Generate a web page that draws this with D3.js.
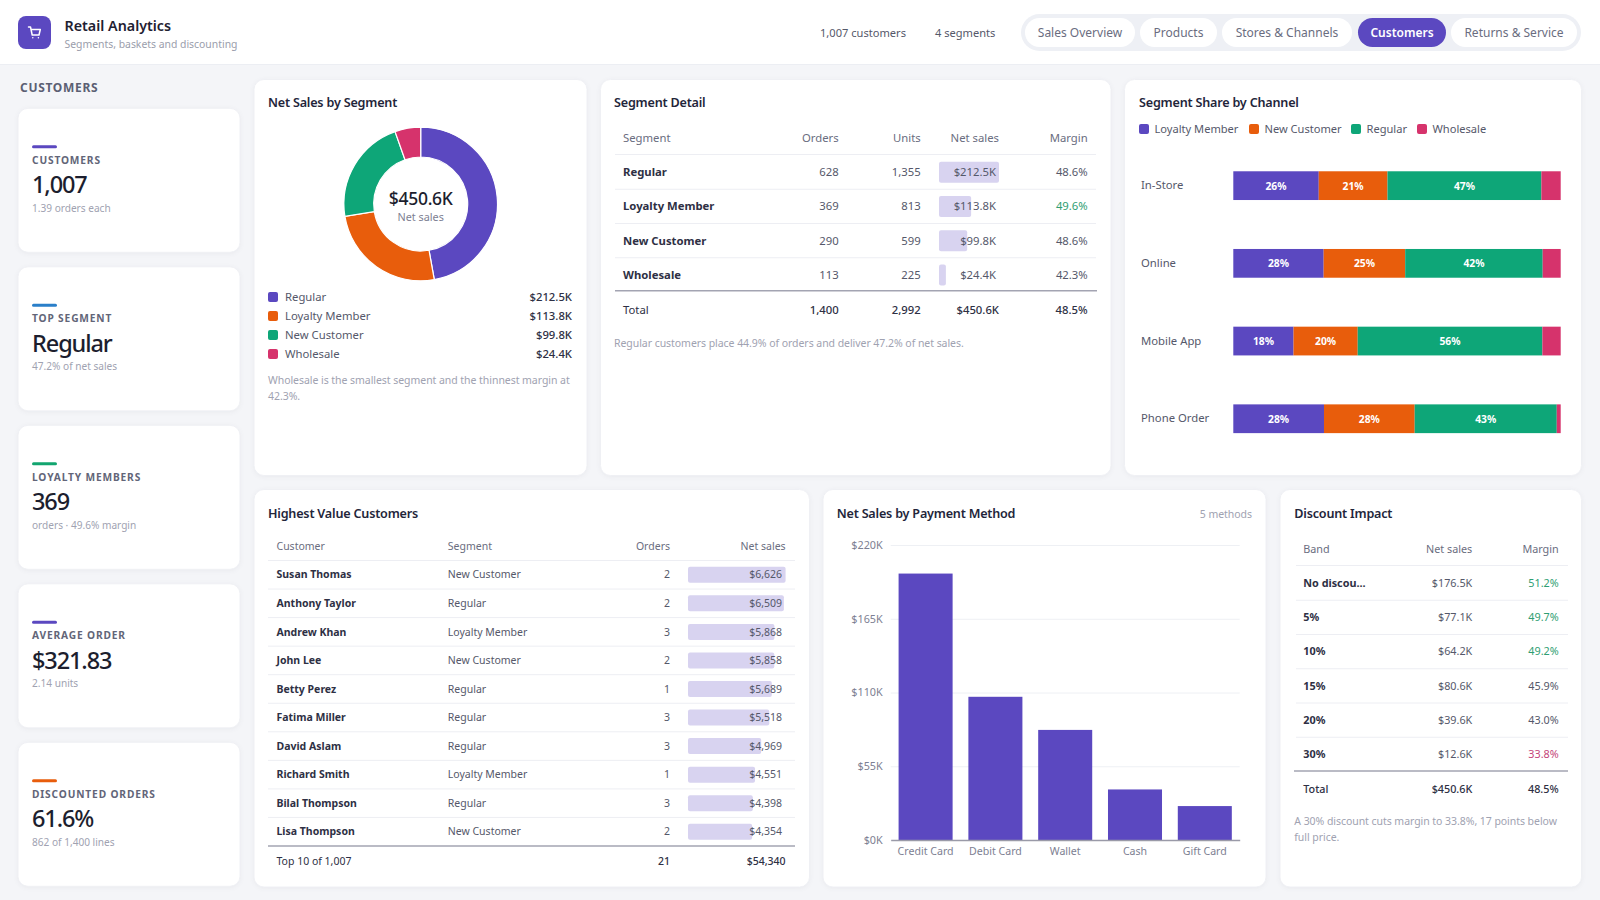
<!DOCTYPE html>
<html>
<head>
<meta charset="utf-8">
<title>Retail Analytics</title>
<script src="https://cdn.jsdelivr.net/npm/d3@7"></script>
<style>
  html, body { margin: 0; padding: 0; background: #f4f5f8; overflow: hidden; }
  svg { display: block; }
  text { font-family: "Noto Sans", sans-serif; }
  .card { fill: #fff; stroke: #eff0f4; filter: drop-shadow(0 1px 2px rgba(30, 34, 60, 0.05)); }
  .panel-title { font-size: 12.6px; font-weight: 600; fill: #23253a; letter-spacing: -0.2px; }
  .note { font-size: 10.5px; fill: #a0a2b1; letter-spacing: -0.05px; }
  .th { font-size: 11.3px; fill: #6a6d80; }
  .td { font-size: 11.3px; fill: #55586a; }
  .name { font-size: 11.3px; font-weight: 700; fill: #2e3044; }
  .total { font-size: 11.3px; font-weight: 500; fill: #2e3044; }
  .small .th, .small .td, .small .name, .small .total { font-size: 10.5px; }
  .mid .th, .mid .td, .mid .name, .mid .total { font-size: 10.8px; }
  .rule { stroke: #edeef3; stroke-width: 1; }
  .rule-strong { stroke: #a3a4b2; stroke-width: 1.6; }
</style>
</head>
<body>
<svg id="chart" width="1600" height="900"></svg>
<script>
// Palette
const PURPLE = '#5b48c0', ORANGE = '#e85d0c', GREEN = '#0ea678', PINK = '#d6336c', BLUE = '#2a7fc9';
const segmentColors = { 'Regular': PURPLE, 'Loyalty Member': ORANGE, 'New Customer': GREEN, 'Wholesale': PINK };
const shareColors = { 'Loyalty Member': PURPLE, 'New Customer': ORANGE, 'Regular': GREEN, 'Wholesale': PINK };

// Header
const navLabels = ['Sales Overview', 'Products', 'Stores & Channels', 'Customers', 'Returns & Service'];
const activeNav = 'Customers';
const headerMeta = ['1,007 customers', '4 segments'];

// KPI cards
const kpiLabels = ['CUSTOMERS', 'TOP SEGMENT', 'LOYALTY MEMBERS', 'AVERAGE ORDER', 'DISCOUNTED ORDERS'];
const kpiValues = ['1,007', 'Regular', '369', '$321.83', '61.6%'];
const kpiNotes = ['1.39 orders each', '47.2% of net sales', 'orders · 49.6% margin', '2.14 units', '862 of 1,400 lines'];
const kpiAccents = [PURPLE, BLUE, '#12a56f', PURPLE, ORANGE];

// Segments
const segments = ['Regular', 'Loyalty Member', 'New Customer', 'Wholesale'];
const segmentNet = [212.5, 113.8, 99.8, 24.4];
const segmentOrders = [628, 369, 290, 113];
const segmentUnits = [1355, 813, 599, 225];
const segmentMargin = [48.6, 49.6, 48.6, 42.3];
const netTotal = 450.6; // printed total, the rounded rows add up to 450.5
const marginTotal = 48.5;

// Channel mix (percent of channel net sales)
const channels = ['In-Store', 'Online', 'Mobile App', 'Phone Order'];
const shareKeys = ['Loyalty Member', 'New Customer', 'Regular', 'Wholesale'];
const shareLoyalty = [26.1, 27.6, 18.4, 27.7];
const shareNew = [21.0, 24.9, 19.6, 27.7];
const shareRegular = [47.0, 42.0, 56.4, 43.4];
const shareWholesale = [5.9, 5.5, 5.6, 1.2];

// Top customers
const customers = ['Susan Thomas', 'Anthony Taylor', 'Andrew Khan', 'John Lee', 'Betty Perez', 'Fatima Miller', 'David Aslam', 'Richard Smith', 'Bilal Thompson', 'Lisa Thompson'];
const customerSegments = ['New Customer', 'Regular', 'Loyalty Member', 'New Customer', 'Regular', 'Regular', 'Regular', 'Loyalty Member', 'Regular', 'New Customer'];
const customerOrders = [2, 2, 3, 2, 1, 3, 3, 1, 3, 2];
const customerNet = [6626, 6509, 5868, 5858, 5689, 5518, 4969, 4551, 4398, 4354];
const customerOrdersTotal = 21; // as printed in the footer row

// Payment methods ($K)
const methods = ['Credit Card', 'Debit Card', 'Wallet', 'Cash', 'Gift Card'];
const methodNet = [198.7, 106.8, 82.1, 37.7, 25.3];
const methodTicks = [0, 55, 110, 165, 220];

// Discount bands
const bands = ['No discou...', '5%', '10%', '15%', '20%', '30%'];
const bandNet = [176.5, 77.1, 64.2, 80.6, 39.6, 12.6];
const bandMargin = [51.2, 49.7, 49.2, 45.9, 43.0, 33.8];

const svg = d3.select('#chart');
const fmtK = v => `$${v.toFixed(1)}K`;
const fmtPct = v => `${v.toFixed(1)}%`;
const fmtInt = d3.format(',');

// Small helper so the text calls below stay short
function label(parent, x, y, str, cls, anchor = 'start') {
  return parent.append('text')
    .attr('x', x)
    .attr('y', y)
    .attr('dy', '0.35em')
    .attr('text-anchor', anchor)
    .attr('class', cls)
    .text(str);
}

function marginColor(v) {
  if (v >= 49) return '#2f9e72';
  if (v < 35) return '#c4457a';
  return '#55586a';
}

function panel(x0, x1, y0, y1) {
  svg.append('rect').attr('class', 'card')
    .attr('x', x0).attr('y', y0)
    .attr('width', x1 - x0).attr('height', y1 - y0)
    .attr('rx', 10);
}

// Horizontal rule across a table
function rule(x0, x1, y, cls = 'rule') {
  svg.append('line').attr('class', cls)
    .attr('x1', x0).attr('x2', x1)
    .attr('y1', y).attr('y2', y);
}

// Header
function drawHeader() {
  svg.append('rect').attr('width', 1600).attr('height', 64).attr('fill', '#fff');
  svg.append('line').attr('x1', 0).attr('x2', 1600).attr('y1', 64.5).attr('y2', 64.5).attr('stroke', '#eceef3');

  svg.append('rect').attr('x', 18).attr('y', 16).attr('width', 33).attr('height', 33).attr('rx', 8).attr('fill', PURPLE);
  svg.append('g').attr('transform', 'translate(28,26.5)')
    .append('path')
    .attr('d', 'M0.5 0.5H2.5L4.2 8.5H11L12.3 3H3.2M4.8 11.2v0.1M10.4 11.2v0.1')
    .attr('fill', 'none').attr('stroke', '#fff').attr('stroke-width', 1.5)
    .attr('stroke-linecap', 'round').attr('stroke-linejoin', 'round');

  label(svg, 64.5, 25.5, 'Retail Analytics', 'x').style('font-size', '14.3px').style('font-weight', 600).attr('fill', '#1f2132');
  label(svg, 64.5, 44, 'Segments, baskets and discounting', 'x').style('font-size', '10.4px').attr('fill', '#9a9dab');

  const metaX = [820, 935];
  headerMeta.forEach((m, i) => {
    label(svg, metaX[i], 33, m, 'x').style('font-size', '11.1px').attr('fill', '#55586a');
  });

  svg.append('rect').attr('x', 1021).attr('y', 14).attr('width', 560).attr('height', 37).attr('rx', 18.5).attr('fill', '#eef0f5');
  const pillX0 = [1025, 1140, 1222, 1358, 1451];
  const pillX1 = [1135, 1217, 1352, 1446, 1577];
  navLabels.forEach((n, i) => {
    const active = n === activeNav;
    svg.append('rect').attr('x', pillX0[i]).attr('y', 18).attr('width', pillX1[i] - pillX0[i]).attr('height', 29)
      .attr('rx', 14.5).attr('fill', active ? PURPLE : '#fff');
    label(svg, (pillX0[i] + pillX1[i]) / 2, 32.5, n, 'x', 'middle')
      .style('font-size', '12px')
      .style('font-weight', active ? 600 : 400)
      .attr('fill', active ? '#fff' : '#6a6d80');
  });
}

// KPI column
function drawKpis() {
  label(svg, 20, 87.5, 'CUSTOMERS', 'x').style('font-size', '12px').style('font-weight', 700)
    .style('letter-spacing', '0.7px').attr('fill', '#5b5f73');

  const y = d3.scaleBand().domain(kpiLabels).range([108.3, 900.8]);
  kpiLabels.forEach((name, i) => {
    const top = y(name);
    panel(18, 240, top, top + 144);
    svg.append('rect').attr('x', 32).attr('y', top + 37).attr('width', 25).attr('height', 3).attr('rx', 1.5).attr('fill', kpiAccents[i]);
    label(svg, 32, top + 52, name, 'x').style('font-size', '10.2px').style('font-weight', 700)
      .style('letter-spacing', '0.85px').attr('fill', '#626578');
    label(svg, 32, top + 76.5, kpiValues[i], 'x').style('font-size', '23.5px').style('font-weight', 500)
      .style('letter-spacing', '-1.1px').attr('fill', '#1c1e2e');
    label(svg, 32, top + 100, kpiNotes[i], 'x').style('font-size', '10.1px').attr('fill', '#a0a2b1');
  });
}

// Donut + legend
function drawDonut() {
  panel(254, 587, 79.5, 475.5);
  label(svg, 268, 103, 'Net Sales by Segment', 'panel-title');

  const pie = d3.pie().sort(null).value(d => d.net);
  const arc = d3.arc().innerRadius(47).outerRadius(76.8);
  const slices = pie(segments.map((s, i) => ({ name: s, net: segmentNet[i] })));
  const g = svg.append('g').attr('transform', 'translate(420.7,204)');
  g.selectAll('path').data(slices).join('path')
    .attr('d', arc)
    .attr('fill', d => segmentColors[d.data.name])
    .attr('stroke', '#fff').attr('stroke-width', 1.2);

  label(g, 0, -5, fmtK(netTotal), 'x', 'middle').style('font-size', '17.5px').style('font-weight', 500).style('letter-spacing', '-0.3px').attr('fill', '#1c1e2e');
  label(g, 0, 13.5, 'Net sales', 'x', 'middle').style('font-size', '10.8px').attr('fill', '#7d8092');

  const y = d3.scalePoint().domain(segments).range([297, 354]);
  segments.forEach((s, i) => {
    svg.append('rect').attr('x', 268).attr('y', y(s) - 5).attr('width', 10).attr('height', 10).attr('rx', 2).attr('fill', segmentColors[s]);
    label(svg, 285, y(s), s, 'td');
    label(svg, 572, y(s), fmtK(segmentNet[i]), 'x', 'end').style('font-size', '11.3px').style('font-weight', 500).attr('fill', '#2e3044');
  });

  label(svg, 268, 380, 'Wholesale is the smallest segment and the thinnest margin at', 'note');
  label(svg, 268, 396, '42.3%.', 'note');
}

// Segment detail table
function drawSegmentTable() {
  panel(600.5, 1111, 79.5, 475.5);
  label(svg, 614, 103, 'Segment Detail', 'panel-title');

  label(svg, 623, 138, 'Segment', 'th');
  label(svg, 838.7, 138, 'Orders', 'th', 'end');
  label(svg, 920.7, 138, 'Units', 'th', 'end');
  label(svg, 999, 138, 'Net sales', 'th', 'end');
  label(svg, 1087.7, 138, 'Margin', 'th', 'end');
  rule(615, 1096, 154.5);

  const y = d3.scaleBand().domain(segments).range([155, 292]);
  const bar = d3.scaleLinear().domain([0, d3.max(segmentNet)]).range([0, 60]);
  segments.forEach((s, i) => {
    const c = y(s) + y.bandwidth() / 2;
    svg.append('rect').attr('x', 939).attr('y', c - 10.5).attr('width', bar(segmentNet[i])).attr('height', 21).attr('rx', 2).attr('fill', '#d8d3f0');
    label(svg, 623, c, s, 'name');
    label(svg, 838.7, c, fmtInt(segmentOrders[i]), 'td', 'end');
    label(svg, 920.7, c, fmtInt(segmentUnits[i]), 'td', 'end');
    label(svg, 996, c, fmtK(segmentNet[i]), 'td', 'end');
    label(svg, 1087.7, c, fmtPct(segmentMargin[i]), 'td', 'end').style('fill', marginColor(segmentMargin[i]));
    if (i < segments.length - 1) rule(615, 1096, y(s) + y.bandwidth());
  });
  rule(615, 1097, 290.8, 'rule-strong');

  label(svg, 623, 310, 'Total', 'total').style('font-weight', 400);
  label(svg, 838.7, 310, fmtInt(d3.sum(segmentOrders)), 'total', 'end');
  label(svg, 920.7, 310, fmtInt(d3.sum(segmentUnits)), 'total', 'end');
  label(svg, 999, 310, fmtK(netTotal), 'total', 'end');
  label(svg, 1087.7, 310, fmtPct(marginTotal), 'total', 'end');

  label(svg, 614, 343, 'Regular customers place 44.9% of orders and deliver 47.2% of net sales.', 'note');
}

// 100% stacked bars
function drawShareChart() {
  panel(1124.5, 1581.5, 79.5, 475.5);
  label(svg, 1139, 103, 'Segment Share by Channel', 'panel-title');

  const swatchX = [1139, 1249, 1351, 1417];
  shareKeys.forEach((k, i) => {
    svg.append('rect').attr('x', swatchX[i]).attr('y', 124).attr('width', 10).attr('height', 10).attr('rx', 2).attr('fill', shareColors[k]);
    label(svg, swatchX[i] + 15.5, 129, k, 'td').style('font-size', '11.1px');
  });

  const rows = channels.map((c, i) => ({
    channel: c,
    'Loyalty Member': shareLoyalty[i],
    'New Customer': shareNew[i],
    'Regular': shareRegular[i],
    'Wholesale': shareWholesale[i]
  }));
  const series = d3.stack().keys(shareKeys)(rows);
  const x = d3.scaleLinear().domain([0, 100]).range([1233.3, 1560.7]);
  const y = d3.scaleBand().domain(channels).range([146.8, 457.6]).paddingInner(0.63).paddingOuter(0.315);

  series.forEach(s => {
    s.forEach(d => {
      svg.append('rect')
        .attr('x', x(d[0])).attr('y', y(d.data.channel))
        .attr('width', x(d[1]) - x(d[0])).attr('height', y.bandwidth())
        .attr('fill', shareColors[s.key]);
      if (d[1] - d[0] >= 8) {
        label(svg, (x(d[0]) + x(d[1])) / 2, y(d.data.channel) + y.bandwidth() / 2 + 0.5, `${Math.round(d[1] - d[0])}%`, 'x', 'middle')
          .style('font-size', '10.3px').style('font-weight', 700).attr('fill', '#fff');
      }
    });
  });

  channels.forEach(c => {
    label(svg, 1141, y(c) + y.bandwidth() / 2 - 0.5, c, 'td');
  });
}

// Top customers table
function drawCustomerTable() {
  panel(254, 809.5, 489.5, 887);
  label(svg, 268, 513.5, 'Highest Value Customers', 'panel-title');

  const t = svg.append('g').attr('class', 'small');
  label(t, 276.5, 546.3, 'Customer', 'th');
  label(t, 447.8, 546.3, 'Segment', 'th');
  label(t, 670, 546.3, 'Orders', 'th', 'end');
  label(t, 785.6, 546.3, 'Net sales', 'th', 'end');
  rule(268, 795, 560.5);

  const y = d3.scaleBand().domain(customers).range([560.5, 846]);
  const bar = d3.scaleLinear().domain([0, d3.max(customerNet)]).range([0, 97.6]);
  customers.forEach((c, i) => {
    const m = y(c) + y.bandwidth() / 2;
    t.append('rect').attr('x', 688).attr('y', m - 8).attr('width', bar(customerNet[i])).attr('height', 16).attr('rx', 2).attr('fill', '#d8d3f0');
    label(t, 276.5, m, c, 'name');
    label(t, 447.8, m, customerSegments[i], 'td');
    label(t, 670, m, customerOrders[i], 'td', 'end');
    label(t, 782, m, d3.format('$,')(customerNet[i]), 'td', 'end');
    if (i < customers.length - 1) rule(268, 795, y(c) + y.bandwidth());
  });
  rule(268, 795, 846, 'rule-strong');

  label(t, 276.5, 861.7, 'Top 10 of 1,007', 'total').style('font-weight', 400);
  label(t, 670, 861.7, customerOrdersTotal, 'total', 'end');
  label(t, 785.6, 861.7, d3.format('$,')(d3.sum(customerNet)), 'total', 'end');
}

// Payment method bars
function drawPaymentChart() {
  panel(823, 1266, 489.5, 887);
  label(svg, 836.7, 513.5, 'Net Sales by Payment Method', 'panel-title');
  label(svg, 1252, 514.5, '5 methods', 'note', 'end');

  const x = d3.scaleBand().domain(methods).range([890.7, 1239.7]).paddingInner(0.226).paddingOuter(0.113);
  const y = d3.scaleLinear().domain([0, 220]).range([840, 545]);

  const yAxis = svg.append('g').attr('transform', 'translate(890.7,0)')
    .call(d3.axisLeft(y).tickValues(methodTicks).tickFormat(d => `$${d}K`).tickSize(-349).tickPadding(8));
  yAxis.select('.domain').remove();
  yAxis.selectAll('line').attr('stroke', '#eef0f4');
  yAxis.selectAll('text').style('font-size', '10.8px').attr('fill', '#7d8092');

  svg.selectAll('.method-bar').data(methods).join('rect')
    .attr('class', 'method-bar')
    .attr('x', d => x(d))
    .attr('y', (d, i) => y(methodNet[i]))
    .attr('width', x.bandwidth())
    .attr('height', (d, i) => y(0) - y(methodNet[i]))
    .attr('fill', PURPLE);

  const xAxis = svg.append('g').attr('transform', 'translate(0,840)')
    .call(d3.axisBottom(x).tickSize(0).tickPadding(7));
  xAxis.select('.domain').attr('stroke', '#9a9aa8').attr('stroke-width', 1.5);
  xAxis.selectAll('text').style('font-size', '10.6px').attr('fill', '#7d8092');
}

// Discount table
function drawDiscountTable() {
  panel(1280, 1581.5, 489.5, 887);
  label(svg, 1294.3, 513.5, 'Discount Impact', 'panel-title');

  const t = svg.append('g').attr('class', 'mid');
  label(t, 1303.3, 549, 'Band', 'th');
  label(t, 1472.3, 549, 'Net sales', 'th', 'end');
  label(t, 1558.7, 549, 'Margin', 'th', 'end');
  rule(1296, 1568, 565.5);

  const y = d3.scaleBand().domain(bands).range([566, 771.5]);
  bands.forEach((b, i) => {
    const m = y(b) + y.bandwidth() / 2;
    label(t, 1303.3, m, b, 'name');
    label(t, 1472.3, m, fmtK(bandNet[i]), 'td', 'end');
    label(t, 1558.7, m, fmtPct(bandMargin[i]), 'td', 'end').style('fill', marginColor(bandMargin[i]));
    if (i < bands.length - 1) rule(1296, 1568, y(b) + y.bandwidth());
  });
  rule(1294, 1568, 771, 'rule-strong');

  label(t, 1303.3, 789, 'Total', 'total');
  label(t, 1472.3, 789, fmtK(d3.sum(bandNet)), 'total', 'end');
  label(t, 1558.7, 789, fmtPct(marginTotal), 'total', 'end');

  label(svg, 1294.3, 821.7, 'A 30% discount cuts margin to 33.8%, 17 points below', 'note');
  label(svg, 1294.3, 837.7, 'full price.', 'note');
}

drawHeader();
drawKpis();
drawDonut();
drawSegmentTable();
drawShareChart();
drawCustomerTable();
drawPaymentChart();
drawDiscountTable();
</script>
</body>
</html>
